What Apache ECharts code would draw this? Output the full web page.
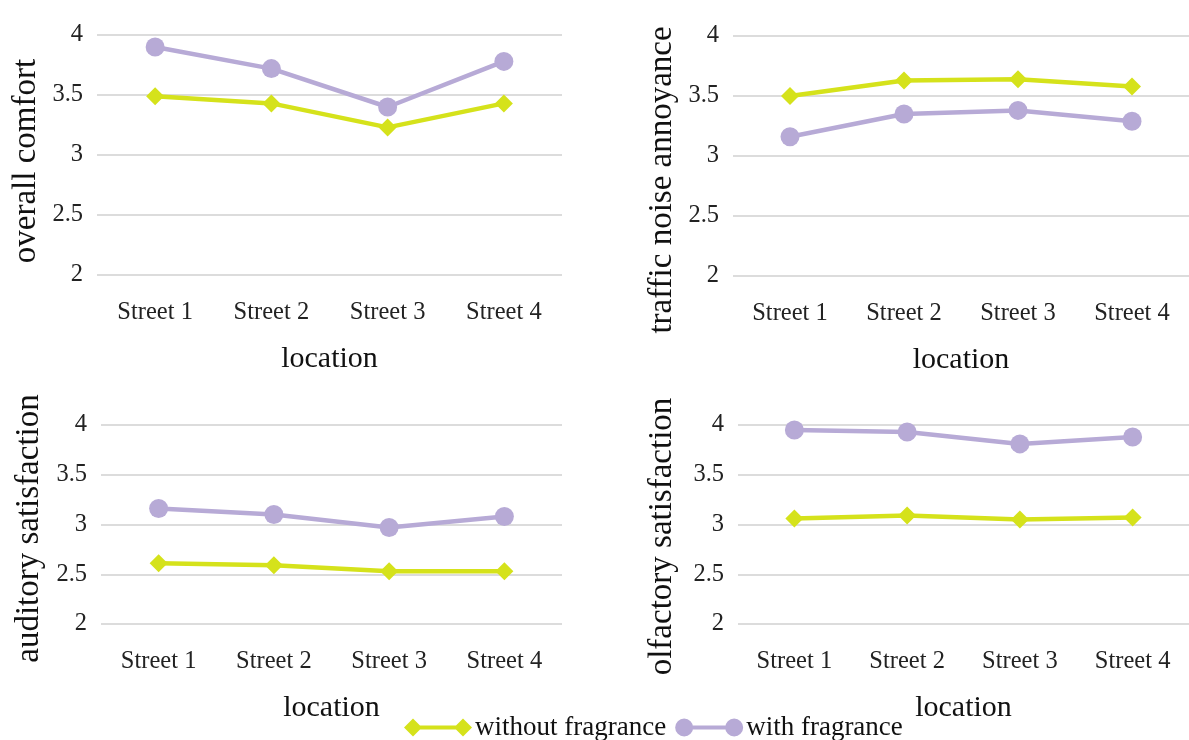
<!DOCTYPE html>
<html>
<head>
<meta charset="utf-8">
<script src="https://cdn.jsdelivr.net/npm/echarts@6/dist/echarts.min.js"></script>
<style>
  html, body { margin: 0; padding: 0; background: #ffffff; }
  #chart { width: 1189px; height: 740px; }
</style>
</head>
<body>
<div id="chart"></div>
<script>
// Street locations on the x axis
const categories = ['Street 1', 'Street 2', 'Street 3', 'Street 4'];

// Mean ratings per street, without and with fragrance
const comfortWithout   = [3.49, 3.43, 3.23, 3.43];
const comfortWith      = [3.90, 3.72, 3.40, 3.78];
const noiseWithout     = [3.50, 3.63, 3.64, 3.58];
const noiseWith        = [3.16, 3.35, 3.38, 3.29];
const auditoryWithout  = [2.61, 2.59, 2.53, 2.53];
const auditoryWith     = [3.16, 3.10, 2.97, 3.08];
const olfactoryWithout = [3.06, 3.09, 3.05, 3.07];
const olfactoryWith    = [3.95, 3.93, 3.81, 3.88];

// Rating scale shown on every y axis
const yMin = 2;
const yMax = 4;
const yStep = 0.5;

const seriesNames = ['without fragrance', 'with fragrance'];
const panelTitles = ['overall comfort', 'traffic noise annoyance', 'auditory satisfaction', 'olfactory satisfaction'];
const panelData = [
  [comfortWithout, comfortWith],
  [noiseWithout, noiseWith],
  [auditoryWithout, auditoryWith],
  [olfactoryWithout, olfactoryWith]
];

const FONT = "'Liberation Serif', 'Times New Roman', serif";
const GREEN = '#d5e21b';
const PURPLE = '#b7aad6';

// plot rectangles of the four panels
const grids = [
  { left: 97,  top: 35,  width: 465, height: 240 },
  { left: 733, top: 36,  width: 463, height: 240 },
  { left: 101, top: 425, width: 461, height: 199 },
  { left: 738, top: 425, width: 463, height: 199 }
];
// y title shift along the axis (pixels down) and distance from the plot
const titleShift = [6, 24, 4, 12];
const titleGap = [54, 54, 55, 59];

// legend keys: a line with a marker at each end
const ICON_DIAMONDS = 'path://M0 9 L9 0 L18 9 L9 18 Z M9 7 L59 7 L59 11 L9 11 Z M50 9 L59 0 L68 9 L59 18 Z';
const ICON_CIRCLES = 'path://M0 9 A9 9 0 1 1 18 9 A9 9 0 1 1 0 9 Z M9 7 L59 7 L59 11 L9 11 Z M50 9 A9 9 0 1 1 68 9 A9 9 0 1 1 50 9 Z';

const xAxes = grids.map((g, i) => ({
  type: 'category',
  gridIndex: i,
  data: categories,
  boundaryGap: true,
  axisLine: { show: false },
  axisTick: { show: false },
  axisLabel: { fontFamily: FONT, fontSize: 24.5, color: '#222222', margin: 25 },
  name: 'location',
  nameLocation: 'middle',
  nameGap: 69,
  nameTextStyle: { fontFamily: FONT, fontSize: 30, color: '#111111' }
}));

const yAxes = grids.map((g, i) => ({
  type: 'value',
  gridIndex: i,
  min: yMin,
  max: yMax,
  interval: yStep,
  axisLine: { show: false },
  axisTick: { show: false },
  axisLabel: { fontFamily: FONT, fontSize: 24.5, color: '#222222', margin: 14 },
  splitLine: { lineStyle: { color: '#dcdcdc', width: 2 } },
  name: panelTitles[i],
  nameLocation: 'middle',
  nameGap: titleGap[i],
  nameRotate: 90,
  nameTextStyle: {
    fontFamily: FONT, fontSize: 33, color: '#111111',
    padding: [0, titleShift[i] * 2, 0, 0]
  }
}));

const series = [];
panelData.forEach((pair, i) => {
  series.push({
    name: seriesNames[0],
    type: 'line',
    xAxisIndex: i,
    yAxisIndex: i,
    data: pair[0],
    symbol: 'diamond',
    symbolSize: 18,
    clip: false,
    lineStyle: { color: GREEN, width: 4.5 },
    itemStyle: { color: GREEN },
    z: 3
  });
  series.push({
    name: seriesNames[1],
    type: 'line',
    xAxisIndex: i,
    yAxisIndex: i,
    data: pair[1],
    symbol: 'circle',
    symbolSize: 19,
    clip: false,
    lineStyle: { color: PURPLE, width: 4.5 },
    itemStyle: { color: PURPLE },
    z: 3
  });
});

const chart = echarts.init(document.getElementById('chart'), null, { renderer: 'canvas' });
chart.setOption({
  backgroundColor: '#ffffff',
  animation: false,
  grid: grids.map(g => Object.assign({ containLabel: false }, g)),
  xAxis: xAxes,
  yAxis: yAxes,
  legend: {
    left: 404,
    top: 714,
    padding: 0,
    itemWidth: 68,
    itemHeight: 18,
    itemGap: 9,
    data: [
      { name: seriesNames[0], icon: ICON_DIAMONDS },
      { name: seriesNames[1], icon: ICON_CIRCLES }
    ],
    textStyle: { fontFamily: FONT, fontSize: 27, color: '#111111', padding: [0, 0, 0, -2] }
  },
  series: series
});
</script>
</body>
</html>
